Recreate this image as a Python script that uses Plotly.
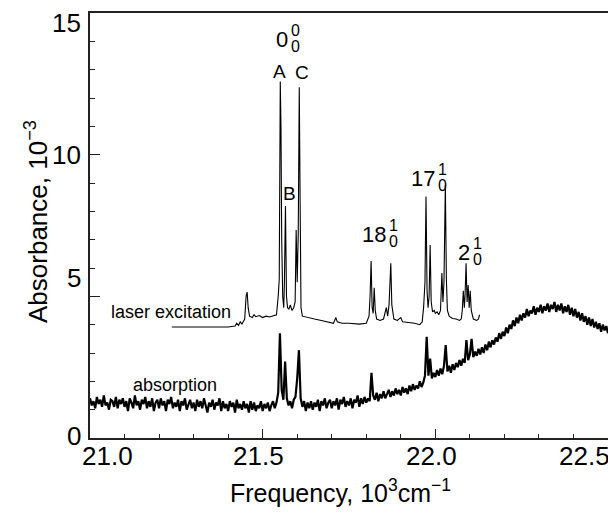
import plotly.graph_objects as go

# ---------------- data ----------------
laser_x = [21.237, 21.40, 21.42, 21.425, 21.43, 21.435, 21.44, 21.448, 21.452, 21.455, 21.458, 21.462,
           21.47, 21.475, 21.48, 21.49, 21.50, 21.51, 21.52, 21.53, 21.54, 21.545, 21.548, 21.551, 21.553,
           21.555, 21.558, 21.561, 21.563, 21.566, 21.569, 21.572, 21.576, 21.58, 21.585, 21.59, 21.594,
           21.597, 21.600, 21.603, 21.606, 21.608, 21.611, 21.615, 21.63, 21.65, 21.67, 21.69, 21.705,
           21.712, 21.716, 21.73, 21.75, 21.78, 21.80, 21.808, 21.811, 21.814, 21.817, 21.820, 21.823,
           21.826, 21.83, 21.84, 21.85, 21.858, 21.862, 21.866, 21.871, 21.874, 21.877, 21.88, 21.89,
           21.90, 21.905, 21.92, 21.94, 21.955, 21.962, 21.966, 21.970, 21.973, 21.976, 21.979, 21.982,
           21.985, 21.988, 21.992, 21.997, 22.00, 22.005, 22.01, 22.015, 22.019, 22.022, 22.025, 22.029,
           22.032, 22.035, 22.04, 22.05, 22.06, 22.07, 22.075, 22.078, 22.081, 22.084, 22.086, 22.089,
           22.092, 22.095, 22.098, 22.101, 22.104, 22.11, 22.12, 22.125, 22.128]
laser_y = [3.92, 3.92, 3.95, 4.05, 3.97, 4.10, 4.02, 4.20, 5.00, 5.15, 4.60, 4.30,
           4.25, 4.35, 4.28, 4.32, 4.25, 4.30, 4.27, 4.30, 4.35, 5.00, 5.60, 12.58, 11.0,
           7.10, 5.00, 4.60, 5.50, 8.19, 5.00, 4.60, 4.55, 4.70, 4.50, 4.60, 4.80,
           7.34, 5.50, 7.20, 12.38, 9.10, 4.60, 4.30, 4.25, 4.20, 4.15, 4.10, 4.05,
           4.25, 4.10, 4.05, 4.05, 4.02, 4.05, 4.30, 5.00, 6.25, 4.60, 4.40, 5.30,
           4.50, 4.20, 4.15, 4.20, 4.60, 4.30, 4.70, 6.17, 4.70, 4.50, 4.20, 4.15,
           4.25, 4.10, 4.08, 4.05, 4.00, 4.10, 4.60, 5.50, 8.52, 5.20, 4.60, 5.00,
           6.81, 4.80, 4.45, 4.50, 4.40, 4.45, 4.35, 4.50, 5.82, 4.80, 5.50, 8.93,
           5.60, 4.50, 4.30, 4.22, 4.20, 4.15, 4.20, 4.50, 5.20, 4.60, 5.00, 6.17,
           4.80, 5.40, 4.60, 5.20, 4.50, 4.20, 4.15, 4.20, 4.35]

# absorption spectrum sampled every 0.005 (10^3 cm^-1) from 21.000 to 22.500
absorption_start = 21.0
absorption_step = 0.005
absorption_y = [
    1.40, 1.15, 1.30, 1.05, 1.45, 1.20, 1.35, 1.10, 1.50, 1.15,
    1.25, 1.00, 1.35, 1.30, 1.10, 1.45, 1.05, 1.35, 1.20, 1.40,
    1.10, 1.30, 0.95, 1.40, 1.25, 1.05, 1.50, 1.15, 1.30, 1.00,
    1.35, 1.20, 1.45, 1.05, 1.30, 1.10, 1.40, 0.95, 1.25, 1.35,
    1.05, 1.40, 1.15, 1.30, 0.95, 1.35, 1.20, 1.45, 1.05, 1.25,
    1.10, 1.35, 0.95, 1.30, 1.15, 1.40, 1.00, 1.20, 1.35, 1.05,
    1.25, 0.95, 1.35, 1.10, 1.30, 1.05, 1.40, 1.15, 0.90, 1.25,
    1.10, 1.35, 1.00, 1.25, 1.15, 1.40, 0.95, 1.30, 1.05, 1.20,
    0.95, 1.30, 1.10, 1.25, 0.90, 1.35, 1.05, 1.20, 1.00, 1.30,
    1.05, 1.20, 0.90, 1.30, 1.00, 1.25, 0.95, 1.15, 1.05, 1.30,
    0.95, 1.20, 1.05, 1.25, 0.95, 1.15, 1.30, 1.05, 1.25, 1.60,
    3.70, 1.70, 1.35, 2.70, 1.40, 1.15, 1.30, 1.05, 1.35, 1.45,
    2.10, 3.10, 1.40, 1.10, 1.30, 0.95, 1.25, 1.05, 1.30, 1.00,
    1.25, 1.10, 1.35, 0.95, 1.30, 1.15, 1.40, 1.05, 1.25, 1.35,
    1.05, 1.30, 1.15, 1.40, 1.00, 1.35, 1.20, 1.45, 1.10, 1.30,
    1.15, 1.40, 1.05, 1.35, 1.25, 1.50, 1.10, 1.40, 1.20, 1.45,
    1.25, 1.40, 1.30, 2.30, 1.50, 1.35, 1.60, 1.30, 1.55, 1.40,
    1.65, 1.40, 1.55, 1.70, 1.45, 1.65, 1.50, 1.75, 1.55, 1.70,
    1.50, 1.80, 1.60, 1.75, 1.55, 1.85, 1.65, 1.90, 1.70, 1.85,
    1.75, 2.00, 1.80, 1.95, 2.20, 3.57, 2.20, 2.80, 2.10, 2.30,
    2.15, 2.40, 2.20, 2.45, 2.25, 2.55, 3.28, 2.35, 2.55, 2.30,
    2.60, 2.40, 2.65, 2.50, 2.75, 2.55, 2.80, 2.65, 3.46, 2.75,
    2.95, 3.50, 2.85, 3.05, 2.90, 3.15, 2.95, 3.20, 3.00, 3.30,
    3.10, 3.40, 3.20, 3.45, 3.30, 3.55, 3.40, 3.70, 3.50, 3.75,
    3.60, 3.90, 3.70, 4.00, 3.85, 4.15, 3.95, 4.25, 4.05, 4.35,
    4.15, 4.40, 4.25, 4.55, 4.30, 4.50, 4.40, 4.65, 4.35, 4.60,
    4.45, 4.70, 4.40, 4.65, 4.50, 4.75, 4.45, 4.70, 4.55, 4.80,
    4.45, 4.70, 4.50, 4.75, 4.40, 4.65, 4.45, 4.70, 4.35, 4.60,
    4.30, 4.55, 4.25, 4.45, 4.15, 4.40, 4.10, 4.30, 4.00, 4.25,
    3.95, 4.20, 3.90, 4.10, 3.85, 4.05, 3.75, 4.00, 3.80, 3.95,
    3.70]
absorption_x = [round(absorption_start + absorption_step * i, 3) for i in range(len(absorption_y))]

x_range = [21.0, 22.5]
y_range = [0, 15]
x_tickvals = [21.0, 21.5, 22.0, 22.5]
x_ticktext = ["21.0", "21.5", "22.0", "22.5"]
y_tickvals = [0, 5, 10, 15]
y_ticktext = ["0", "5", "10", "15"]

# peak letter labels: (text, x, y)
letter_labels = [("A", 21.549, 12.95), ("B", 21.579, 8.63), ("C", 21.614, 12.9)]
# vibronic band labels: (main, sup, sub, x of right edge, y centre)
band_labels = [("0", "0", "0", 21.579, 14.05),
               ("18", "1", "0", 21.863, 7.165),
               ("17", "1", "0", 22.005, 9.16),
               ("2", "1", "0", 22.106, 6.55)]
trace_labels = [("laser excitation", 21.235, 4.45), ("absorption", 21.246, 1.87)]

FONT = "Liberation Sans, Arial, Helvetica, sans-serif"

# ---------------- layout geometry ----------------
# The page body has an 8 px default margin, so the figure is drawn 8 px in
# from the window's top-left corner; screen positions below are window pixels.
OFF = 8
W, H = 608, 506
PLOT_X0, PLOT_X1, PLOT_Y0, PLOT_Y1 = 90, 608, 13, 438   # plot frame in window px
L = PLOT_X0 - OFF
R = W - (PLOT_X1 - OFF)
T = PLOT_Y0 - OFF
B = H - (PLOT_Y1 - OFF)
PW, PH = PLOT_X1 - PLOT_X0, PLOT_Y1 - PLOT_Y0
def px_x(p):
    return (p - PLOT_X0) / PW
def px_y(p):
    return (PLOT_Y1 - p) / PH

x_label_px = [107, 258, 431, 584]   # label centres as drawn in the reference
y_label_py = [436, 278, 155, 23]

fig = go.Figure()
fig.add_trace(go.Scatter(x=absorption_x, y=absorption_y, mode="lines",
                         line=dict(color="black", width=2.2), showlegend=False))
fig.add_trace(go.Scatter(x=laser_x, y=laser_y, mode="lines",
                         line=dict(color="black", width=1.1), showlegend=False))

for t, x, y in letter_labels:
    fig.add_annotation(text=t, x=x, y=y, xref="x", yref="y", showarrow=False,
                       font=dict(family=FONT, size=19, color="black"))
for main, sup, sub, x, y in band_labels:
    fig.add_annotation(text=main, x=x, y=y, xref="x", yref="y", showarrow=False,
                       xanchor="right", yanchor="middle",
                       font=dict(family=FONT, size=22, color="black"))
    fig.add_annotation(text=sup, x=x, y=y, xref="x", yref="y", showarrow=False,
                       xanchor="left", yanchor="middle", xshift=-1, yshift=9,
                       font=dict(family=FONT, size=16, color="black"))
    fig.add_annotation(text=sub, x=x, y=y, xref="x", yref="y", showarrow=False,
                       xanchor="left", yanchor="middle", xshift=-1, yshift=-7,
                       font=dict(family=FONT, size=16, color="black"))
for t, x, y in trace_labels:
    fig.add_annotation(text=t, x=x, y=y, xref="x", yref="y", showarrow=False,
                       font=dict(family=FONT, size=18, color="black"))

# tick labels
for t, p in zip(x_ticktext, x_label_px):
    fig.add_annotation(text=t, x=px_x(p), y=px_y(456), xref="paper", yref="paper",
                       showarrow=False, xanchor="center", yanchor="middle",
                       font=dict(family=FONT, size=26, color="black"))
for t, p in zip(y_ticktext, y_label_py):
    fig.add_annotation(text=t, x=px_x(83), y=px_y(p), xref="paper", yref="paper",
                       showarrow=False, xanchor="right", yanchor="middle",
                       font=dict(family=FONT, size=26, color="black"))
# axis titles
fig.add_annotation(text="Frequency, 10<sup>3</sup>cm<sup>\u22121</sup>",
                   x=px_x(340), y=px_y(491), xref="paper", yref="paper",
                   showarrow=False, xanchor="center", yanchor="middle",
                   font=dict(family=FONT, size=25, color="black"))
fig.add_annotation(text="Absorbance, 10<sup>\u22123</sup>", textangle=-90,
                   x=px_x(36), y=px_y(222), xref="paper", yref="paper",
                   showarrow=False, xanchor="center", yanchor="middle",
                   font=dict(family=FONT, size=26, color="black"))

fig.update_layout(
    width=W, height=H,
    margin=dict(l=L, r=R, t=T, b=B, autoexpand=False),
    paper_bgcolor="white", plot_bgcolor="white",
    font=dict(family=FONT, color="black"),
)
fig.update_xaxes(range=x_range, tickvals=x_tickvals, showticklabels=False,
                 ticks="inside", ticklen=9, tickwidth=1.2, tickcolor="#222",
                 minor=dict(dtick=0.1, ticks="inside", ticklen=4, tickcolor="#222"),
                 showline=True, linecolor="#222", linewidth=1.5, mirror=True,
                 showgrid=False, zeroline=False, automargin=False)
fig.update_yaxes(range=y_range, tickvals=y_tickvals, showticklabels=False,
                 ticks="inside", ticklen=10, tickwidth=1.2, tickcolor="#222",
                 minor=dict(dtick=1, ticks="inside", ticklen=5, tickcolor="#222"),
                 showline=True, linecolor="#222", linewidth=1.5, mirror=True,
                 showgrid=False, zeroline=False, automargin=False)

fig.write_html("out.html")
